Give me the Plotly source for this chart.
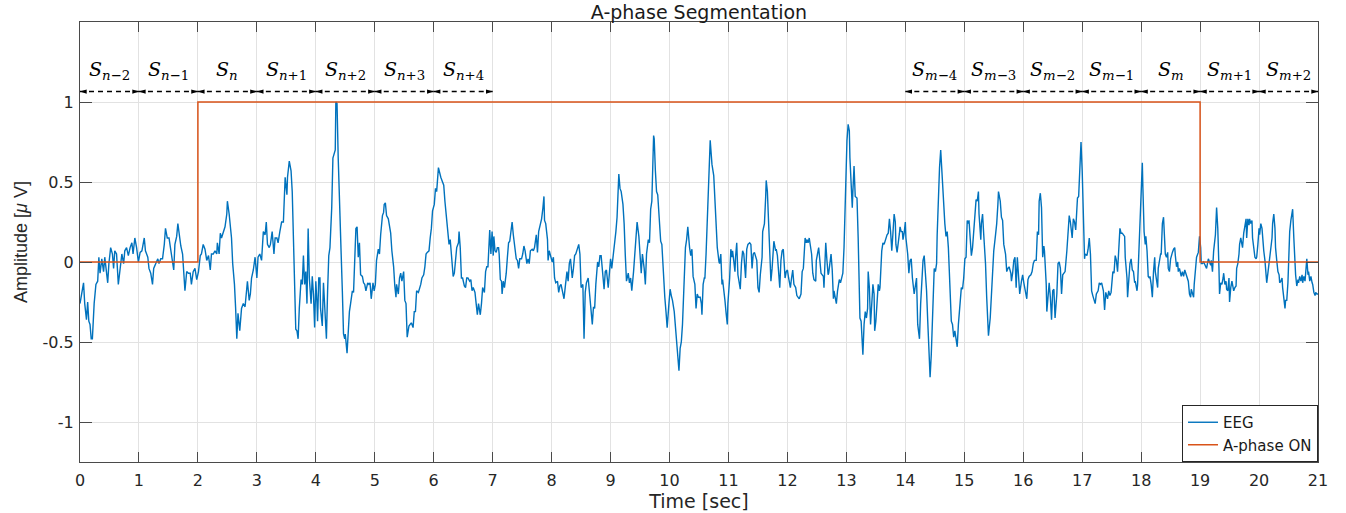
import plotly.graph_objects as go

# ---------------- data ----------------
eeg_00_03s = [(0.00,-0.26),(0.03,-0.20),(0.06,-0.13),(0.08,-0.26),(0.11,-0.36),(0.13,-0.25),(0.15,-0.37),(0.17,-0.39),(0.19,-0.48),(0.21,-0.48),(0.24,-0.26),(0.27,-0.14),(0.30,-0.12),(0.32,0.03),(0.34,-0.07),(0.37,0.02),(0.40,-0.06),(0.42,0.03),(0.45,-0.08),(0.47,-0.13),(0.49,-0.01),(0.52,0.09),(0.55,0.05),(0.57,-0.04),(0.59,0.07),(0.62,0.05),(0.65,-0.14),(0.68,-0.06),(0.71,0.05),(0.74,-0.01),(0.76,0.07),(0.79,0.09),(0.82,0.04),(0.85,0.09),(0.88,0.12),(0.90,0.05),(0.93,0.15),(0.96,0.09),(0.99,0.00),(1.02,0.06),(1.05,0.07),(1.09,0.15),(1.11,0.07),(1.15,0.03),(1.17,-0.04),(1.20,-0.07),(1.23,-0.14),(1.25,-0.04),(1.28,-0.01),(1.32,0.02),(1.34,-0.01),(1.37,0.02),(1.40,0.02),(1.43,0.11),(1.45,0.21),(1.48,0.15),(1.51,0.15),(1.54,0.07),(1.57,-0.01),(1.59,-0.05),(1.61,0.11),(1.64,0.16),(1.66,0.24),(1.68,0.18),(1.71,0.10),(1.74,0.05),(1.76,-0.10),(1.78,-0.18),(1.81,-0.06),(1.84,-0.07),(1.87,-0.07),(1.89,-0.14),(1.92,-0.06),(1.95,-0.04),(1.98,-0.11),(2.01,-0.06),(2.04,0.04),(2.06,0.05),(2.09,0.11),(2.12,0.08),(2.15,0.01),(2.18,0.04),(2.21,-0.05),(2.23,0.05),(2.26,0.05),(2.29,0.07),(2.32,0.05),(2.33,0.12),(2.36,0.05),(2.38,0.18),(2.40,0.15),(2.43,0.19),(2.46,0.22),(2.49,0.30),(2.50,0.38),(2.53,0.30),(2.55,0.24),(2.57,0.15),(2.59,-0.01),(2.62,-0.14),(2.64,-0.29),(2.66,-0.48),(2.68,-0.32),(2.71,-0.43),(2.74,-0.29),(2.77,-0.26),(2.80,-0.28),(2.83,-0.14),(2.84,-0.12),(2.87,-0.24),(2.89,-0.20),(2.91,-0.10),(2.94,-0.05),(2.97,0.03),(3.00,-0.10),(3.02,0.03),(3.05,0.05),(3.08,0.01),(3.11,0.19),(3.14,0.17),(3.16,0.25),(3.18,0.11),(3.21,0.09),(3.23,0.11),(3.26,0.19),(3.29,0.05),(3.31,0.15),(3.34,0.15),(3.36,0.12),(3.39,0.19),(3.42,0.25),(3.45,0.25)]

eeg_03_07s = [(3.48,0.53),(3.51,0.42),(3.52,0.53),(3.55,0.63),(3.58,0.57),(3.60,0.44),(3.62,0.19),(3.64,-0.12),(3.66,-0.42),(3.68,-0.43),(3.70,-0.48),(3.72,-0.29),(3.75,-0.11),(3.77,-0.14),(3.79,0.04),(3.81,-0.14),(3.83,-0.06),(3.85,-0.26),(3.87,0.21),(3.89,-0.10),(3.92,-0.26),(3.94,-0.09),(3.96,-0.20),(3.98,-0.41),(4.00,-0.12),(4.02,-0.26),(4.03,-0.37),(4.05,-0.10),(4.07,-0.10),(4.08,-0.29),(4.11,-0.40),(4.13,-0.13),(4.15,-0.31),(4.18,-0.48),(4.20,-0.18),(4.22,0.04),(4.24,0.09),(4.27,0.34),(4.29,0.65),(4.31,0.68),(4.33,0.70),(4.34,1.00),(4.36,0.99),(4.38,0.65),(4.40,0.36),(4.41,0.28),(4.43,0.05),(4.45,-0.18),(4.47,-0.45),(4.49,-0.48),(4.50,-0.45),(4.53,-0.57),(4.55,-0.39),(4.57,-0.31),(4.59,-0.26),(4.62,-0.18),(4.64,-0.19),(4.66,0.07),(4.68,0.21),(4.70,0.22),(4.72,0.03),(4.74,0.12),(4.76,-0.08),(4.79,-0.09),(4.81,-0.13),(4.83,-0.14),(4.85,-0.18),(4.88,-0.13),(4.90,-0.14),(4.92,-0.13),(4.94,-0.23),(4.97,-0.13),(4.99,-0.18),(5.01,-0.14),(5.03,0.01),(5.06,0.08),(5.08,0.05),(5.10,0.17),(5.13,0.29),(5.15,0.31),(5.16,0.36),(5.18,0.37),(5.20,0.29),(5.23,0.27),(5.25,0.21),(5.27,0.18),(5.29,0.07),(5.32,-0.03),(5.34,-0.15),(5.36,-0.22),(5.37,-0.14),(5.40,-0.20),(5.42,-0.10),(5.44,-0.07),(5.46,-0.12),(5.49,-0.06),(5.51,-0.24),(5.53,-0.26),(5.55,-0.47),(5.58,-0.40),(5.60,-0.39),(5.62,-0.38),(5.65,-0.41),(5.67,-0.31),(5.69,-0.31),(5.71,-0.18),(5.74,-0.19),(5.76,-0.17),(5.78,-0.14),(5.80,-0.10),(5.83,-0.08),(5.85,-0.03),(5.87,0.05),(5.89,0.06),(5.92,0.07),(5.94,0.15),(5.96,0.21),(5.98,0.32),(6.01,0.36),(6.03,0.46),(6.05,0.44),(6.08,0.59),(6.10,0.55),(6.12,0.53),(6.14,0.51),(6.17,0.48),(6.19,0.38),(6.21,0.30),(6.23,0.24),(6.26,0.11),(6.28,0.14),(6.30,0.03),(6.33,-0.09),(6.35,-0.07),(6.37,0.04),(6.39,0.09),(6.42,0.12),(6.43,0.19),(6.45,0.09),(6.47,-0.10),(6.49,-0.10),(6.52,-0.15),(6.54,-0.16),(6.56,-0.10),(6.58,-0.10),(6.61,-0.12),(6.63,-0.11),(6.65,-0.18),(6.67,-0.16),(6.70,-0.19),(6.72,-0.26),(6.74,-0.33),(6.76,-0.26),(6.79,-0.33),(6.81,-0.26),(6.83,-0.16),(6.86,-0.19),(6.88,-0.06),(6.90,-0.03),(6.92,-0.03)]

eeg_07_10s = [(6.95,0.20),(6.97,0.05),(6.99,0.19),(7.01,0.04),(7.02,0.16),(7.04,0.07),(7.06,0.06),(7.08,0.09),(7.10,0.09),(7.11,0.05),(7.13,-0.11),(7.15,-0.12),(7.16,-0.20),(7.18,-0.12),(7.20,-0.16),(7.23,-0.07),(7.25,0.03),(7.27,0.12),(7.29,0.13),(7.32,0.21),(7.33,0.25),(7.35,0.17),(7.37,0.09),(7.40,0.02),(7.42,0.01),(7.44,-0.04),(7.46,0.02),(7.49,0.02),(7.51,0.05),(7.53,0.10),(7.55,0.07),(7.58,-0.01),(7.60,0.02),(7.62,-0.01),(7.64,0.07),(7.67,0.08),(7.69,0.07),(7.71,0.09),(7.74,0.17),(7.76,0.06),(7.78,0.19),(7.80,0.22),(7.83,0.27),(7.85,0.33),(7.87,0.41),(7.88,0.26),(7.90,0.24),(7.93,0.14),(7.94,0.01),(7.96,0.07),(7.98,0.04),(8.01,0.00),(8.03,0.03),(8.05,-0.10),(8.07,-0.13),(8.10,-0.12),(8.12,-0.19),(8.14,-0.15),(8.16,-0.14),(8.19,-0.20),(8.21,-0.23),(8.23,-0.16),(8.26,-0.06),(8.28,-0.12),(8.30,-0.01),(8.32,0.02),(8.35,-0.10),(8.37,-0.04),(8.39,0.04),(8.41,0.05),(8.44,0.08),(8.46,0.11),(8.48,0.05),(8.50,-0.16),(8.53,-0.14),(8.55,-0.48),(8.57,-0.19),(8.59,-0.13),(8.62,-0.10),(8.64,-0.18),(8.66,-0.22),(8.69,-0.39),(8.71,-0.28),(8.73,-0.29),(8.75,-0.14),(8.78,0.00),(8.80,-0.03),(8.82,0.04),(8.84,0.04),(8.87,-0.07),(8.89,-0.17),(8.91,-0.06),(8.93,-0.05),(8.96,-0.16),(8.98,-0.08),(9.00,0.02),(9.02,-0.04),(9.05,0.05),(9.07,0.10),(9.09,0.19),(9.11,0.28),(9.14,0.55),(9.16,0.46),(9.18,0.44),(9.21,0.36),(9.23,0.24),(9.25,0.04),(9.27,-0.12),(9.30,-0.07),(9.32,-0.13),(9.34,-0.10),(9.36,-0.18),(9.39,-0.06),(9.41,0.05),(9.43,0.15),(9.45,0.25),(9.48,0.16),(9.50,0.05),(9.52,-0.07),(9.54,0.05),(9.57,-0.04),(9.59,-0.14),(9.61,0.05),(9.64,0.14),(9.66,0.12),(9.68,0.33),(9.70,0.38),(9.73,0.79),(9.74,0.77),(9.76,0.57),(9.78,0.44),(9.80,0.42),(9.83,0.28),(9.85,0.13),(9.87,0.11),(9.90,-0.12),(9.92,-0.22),(9.94,-0.31),(9.96,-0.41),(9.99,-0.26),(10.01,-0.17),(10.03,-0.21),(10.05,-0.24),(10.08,-0.31),(10.10,-0.39),(10.12,-0.47),(10.14,-0.58),(10.16,-0.68),(10.18,-0.54),(10.20,-0.50),(10.22,-0.39),(10.25,-0.10),(10.27,0.09),(10.29,0.14),(10.31,0.22),(10.34,0.09),(10.36,0.04),(10.38,0.08),(10.40,-0.09),(10.43,-0.14),(10.45,-0.29),(10.47,-0.20),(10.49,-0.22)]

eeg_10_14s = [(10.52,-0.22),(10.54,-0.26),(10.55,-0.33),(10.57,-0.14),(10.59,-0.10),(10.60,-0.10),(10.62,0.05),(10.64,0.28),(10.66,0.49),(10.67,0.59),(10.69,0.76),(10.71,0.66),(10.72,0.61),(10.75,0.54),(10.77,0.38),(10.79,0.19),(10.81,0.09),(10.84,0.00),(10.85,-0.01),(10.87,0.05),(10.89,-0.14),(10.90,-0.11),(10.92,-0.20),(10.94,-0.24),(10.96,-0.32),(10.98,-0.39),(10.99,-0.26),(11.02,-0.10),(11.04,0.08),(11.06,0.03),(11.07,0.07),(11.09,0.00),(11.11,-0.06),(11.12,0.03),(11.14,0.12),(11.16,-0.08),(11.18,-0.14),(11.20,-0.17),(11.22,-0.01),(11.24,0.07),(11.26,0.05),(11.28,-0.04),(11.29,-0.10),(11.31,0.08),(11.33,0.11),(11.36,0.12),(11.38,0.11),(11.40,-0.04),(11.42,0.05),(11.44,0.06),(11.46,0.03),(11.48,0.01),(11.50,-0.16),(11.52,-0.19),(11.54,-0.08),(11.57,0.03),(11.58,0.19),(11.61,0.24),(11.63,0.40),(11.64,0.51),(11.66,0.44),(11.68,0.24),(11.70,0.07),(11.72,-0.12),(11.74,-0.04),(11.75,0.05),(11.77,0.13),(11.80,0.07),(11.81,0.08),(11.83,0.04),(11.85,-0.06),(11.87,-0.16),(11.89,0.01),(11.91,0.07),(11.93,0.08),(11.94,0.01),(11.96,-0.10),(11.98,-0.06),(12.00,-0.05),(12.02,-0.10),(12.05,-0.16),(12.07,-0.10),(12.09,-0.05),(12.11,-0.14),(12.14,-0.16),(12.16,-0.21),(12.18,-0.22),(12.20,-0.23),(12.23,-0.20),(12.25,-0.06),(12.27,-0.04),(12.28,0.07),(12.30,0.15),(12.32,0.12),(12.33,0.14),(12.35,0.12),(12.37,0.15),(12.39,0.10),(12.41,0.05),(12.43,-0.07),(12.45,-0.11),(12.48,-0.12),(12.49,0.01),(12.51,0.05),(12.53,0.09),(12.55,0.01),(12.57,-0.07),(12.59,-0.08),(12.61,-0.09),(12.62,-0.16),(12.65,0.12),(12.67,0.01),(12.69,-0.08),(12.70,-0.07),(12.72,-0.01),(12.74,0.05),(12.76,-0.05),(12.78,-0.23),(12.79,-0.18),(12.82,-0.24),(12.83,-0.26),(12.85,-0.18),(12.87,-0.14),(12.88,-0.11),(12.90,-0.13),(12.92,-0.09),(12.94,-0.07),(12.96,0.09),(12.98,0.42),(13.01,0.76),(13.03,0.86),(13.05,0.82),(13.06,0.65),(13.08,0.53),(13.10,0.34),(13.11,0.44),(13.13,0.60),(13.15,0.41),(13.18,0.40),(13.20,0.15),(13.22,-0.10),(13.23,-0.35),(13.25,-0.37),(13.27,-0.51),(13.28,-0.58),(13.30,-0.39),(13.32,-0.31),(13.34,-0.35),(13.36,-0.29),(13.37,-0.06),(13.39,-0.16),(13.41,-0.39),(13.43,-0.29),(13.45,-0.14),(13.47,-0.20),(13.48,-0.43),(13.50,-0.37),(13.52,-0.26),(13.54,-0.14),(13.56,-0.18),(13.57,-0.16),(13.60,0.07),(13.62,0.12),(13.64,0.11),(13.66,0.14),(13.69,0.17),(13.71,0.18),(13.73,0.27),(13.75,0.19),(13.77,0.07),(13.79,0.18),(13.81,0.30),(13.83,0.25),(13.84,0.11),(13.86,0.06),(13.88,0.11),(13.90,0.18),(13.91,0.22),(13.93,0.19),(13.95,0.19),(13.96,0.14),(13.98,0.18),(14.00,0.25),(14.01,0.15),(14.04,0.05),(14.06,-0.07)]

eeg_14_17s = [(14.08,0.01),(14.10,0.02),(14.12,-0.10),(14.15,-0.20),(14.17,-0.14),(14.19,-0.10),(14.21,-0.39),(14.24,-0.48),(14.26,-0.26),(14.28,-0.07),(14.30,0.01),(14.32,0.04),(14.34,-0.06),(14.36,-0.18),(14.38,-0.37),(14.41,-0.58),(14.42,-0.72),(14.44,-0.58),(14.46,-0.39),(14.47,-0.18),(14.49,-0.04),(14.51,-0.06),(14.53,-0.01),(14.54,0.17),(14.56,0.42),(14.58,0.59),(14.60,0.70),(14.62,0.57),(14.64,0.40),(14.67,0.24),(14.69,0.16),(14.71,0.19),(14.73,0.09),(14.76,-0.16),(14.78,-0.37),(14.80,-0.39),(14.82,-0.47),(14.84,-0.43),(14.86,-0.47),(14.88,-0.53),(14.90,-0.39),(14.93,-0.26),(14.95,-0.16),(14.97,-0.17),(14.99,-0.10),(15.01,0.02),(15.03,0.03),(15.05,0.26),(15.06,0.24),(15.08,0.26),(15.10,0.15),(15.12,0.04),(15.14,0.09),(15.16,0.19),(15.19,0.34),(15.20,0.39),(15.22,0.38),(15.24,0.44),(15.25,0.30),(15.28,0.14),(15.29,0.24),(15.31,0.30),(15.33,0.17),(15.36,-0.01),(15.38,-0.22),(15.40,-0.39),(15.41,-0.46),(15.44,-0.35),(15.46,-0.20),(15.48,-0.06),(15.50,0.07),(15.53,0.17),(15.55,0.24),(15.57,0.36),(15.58,0.44),(15.61,0.38),(15.63,0.28),(15.65,0.26),(15.67,0.11),(15.70,0.05),(15.72,-0.06),(15.74,-0.04),(15.76,-0.03),(15.79,-0.07),(15.80,-0.12),(15.82,-0.07),(15.84,0.01),(15.86,0.03),(15.88,-0.16),(15.90,0.03),(15.92,-0.07),(15.94,-0.20),(15.97,-0.12),(15.99,-0.08),(16.01,-0.13),(16.03,-0.18),(16.06,-0.23),(16.08,-0.11),(16.10,-0.09),(16.13,-0.08),(16.15,-0.06),(16.17,-0.01),(16.19,0.01),(16.22,0.01),(16.24,0.19),(16.26,0.17),(16.27,0.38),(16.29,0.43),(16.31,0.34),(16.33,0.03),(16.35,0.10),(16.36,0.07),(16.39,-0.14),(16.40,-0.31),(16.42,-0.22),(16.44,-0.13),(16.46,-0.22),(16.48,-0.36),(16.50,-0.18),(16.52,-0.17),(16.54,-0.35),(16.57,-0.20),(16.59,-0.01),(16.61,0.00),(16.63,-0.04),(16.65,-0.20),(16.67,-0.08),(16.69,-0.07),(16.71,-0.06),(16.74,0.07),(16.76,0.19),(16.78,0.29),(16.80,0.25),(16.83,0.15),(16.85,0.27),(16.87,0.25),(16.89,0.20),(16.92,0.40),(16.94,0.41),(16.96,0.63),(16.98,0.75),(17.00,0.57),(17.02,0.24),(17.04,0.02),(17.05,0.05),(17.08,0.04),(17.10,0.08),(17.12,0.15),(17.14,0.05),(17.16,-0.18),(17.18,-0.21),(17.20,-0.24),(17.22,-0.26),(17.24,-0.20),(17.27,-0.18),(17.29,-0.13),(17.31,-0.14),(17.33,-0.13),(17.36,-0.18),(17.38,-0.30),(17.40,-0.19),(17.43,-0.23),(17.45,-0.18),(17.47,-0.21),(17.49,-0.19),(17.52,-0.06),(17.54,-0.07),(17.56,0.04),(17.58,0.01),(17.60,-0.06)]

eeg_17_21s = [(17.64,0.21),(17.66,0.18),(17.68,0.18),(17.70,0.17),(17.72,0.16),(17.73,0.03),(17.76,-0.10),(17.77,-0.22),(17.79,-0.10),(17.81,-0.01),(17.83,0.02),(17.85,-0.05),(17.87,-0.06),(17.89,-0.13),(17.90,-0.12),(17.93,-0.18),(17.94,-0.14),(17.96,0.03),(17.98,0.24),(18.00,0.44),(18.02,0.62),(18.03,0.46),(18.05,0.19),(18.07,0.11),(18.08,0.16),(18.10,0.07),(18.12,-0.09),(18.14,-0.10),(18.15,-0.09),(18.17,-0.14),(18.19,-0.22),(18.21,-0.06),(18.23,0.03),(18.24,-0.06),(18.26,-0.12),(18.28,-0.16),(18.29,-0.04),(18.31,0.02),(18.33,0.05),(18.34,0.05),(18.36,0.24),(18.38,0.28),(18.40,0.15),(18.41,0.05),(18.43,0.03),(18.45,0.06),(18.46,-0.04),(18.48,-0.06),(18.50,0.02),(18.51,0.04),(18.53,0.06),(18.55,0.08),(18.57,0.09),(18.58,0.04),(18.60,-0.03),(18.62,0.00),(18.63,-0.06),(18.65,-0.04),(18.67,-0.07),(18.68,-0.09),(18.70,-0.06),(18.72,-0.09),(18.74,-0.05),(18.75,-0.06),(18.77,-0.09),(18.79,-0.11),(18.80,-0.12),(18.82,-0.20),(18.84,-0.22),(18.85,-0.17),(18.87,-0.20),(18.89,-0.22),(18.90,-0.14),(18.92,-0.06),(18.94,0.03),(18.96,0.05),(18.97,0.06),(18.99,0.16),(19.01,0.09),(19.02,-0.01),(19.04,-0.01),(19.06,0.00),(19.07,-0.01),(19.09,-0.02),(19.11,-0.04),(19.13,0.00),(19.14,0.02),(19.16,0.00),(19.18,-0.02),(19.19,0.01),(19.21,-0.06),(19.23,0.07),(19.24,0.12),(19.26,0.17),(19.28,0.34),(19.30,0.21),(19.32,-0.04),(19.33,-0.20),(19.35,-0.13),(19.37,-0.14),(19.39,-0.10),(19.40,-0.07),(19.42,-0.14),(19.44,-0.12),(19.45,-0.17),(19.47,-0.18),(19.49,-0.10),(19.50,-0.25),(19.52,-0.16),(19.54,-0.12),(19.55,-0.14),(19.57,-0.18),(19.59,-0.16),(19.61,-0.15),(19.62,-0.04),(19.64,-0.01),(19.66,0.05),(19.67,0.11),(19.69,0.15),(19.71,0.09),(19.72,0.09),(19.74,0.18),(19.76,0.24),(19.78,0.27),(19.79,0.15),(19.81,0.27),(19.83,0.23),(19.84,0.27),(19.86,0.24),(19.88,0.26),(19.89,0.15),(19.91,0.09),(19.93,0.03),(19.95,0.02),(19.96,0.03),(19.98,0.11),(20.00,0.21),(20.01,0.17),(20.03,0.24),(20.05,0.21),(20.06,0.15),(20.08,0.07),(20.10,0.01),(20.11,-0.06),(20.13,-0.13),(20.15,-0.07),(20.17,0.00),(20.18,0.03),(20.20,0.09),(20.22,0.15),(20.23,0.24),(20.25,0.30),(20.27,0.21),(20.28,0.09),(20.30,0.01),(20.32,-0.06),(20.34,-0.08),(20.35,-0.13),(20.37,-0.12),(20.39,-0.10),(20.40,-0.16),(20.42,-0.23),(20.44,-0.29),(20.45,-0.24),(20.47,-0.24),(20.49,-0.13),(20.50,-0.01),(20.52,0.19),(20.54,0.26),(20.56,0.30),(20.57,0.33),(20.59,0.15),(20.61,-0.03),(20.62,-0.08),(20.64,-0.15),(20.66,-0.11),(20.67,-0.13),(20.69,-0.09),(20.71,-0.12),(20.73,-0.08),(20.74,-0.13),(20.76,-0.09),(20.78,-0.12),(20.79,-0.06),(20.81,0.02),(20.83,-0.08),(20.84,-0.06),(20.86,-0.12),(20.88,-0.09),(20.90,-0.13),(20.91,-0.14),(20.93,-0.19),(20.95,-0.21),(20.96,-0.19),(20.98,-0.20),(21.00,-0.20)]

aphase_time = [0, 2, 19, 21]
aphase_on = [0, 1, 0, 0]

seg_left_starts = [0, 1, 2, 3, 4, 5, 6]
seg_left_labels = ["n−2", "n−1", "n", "n+1", "n+2", "n+3", "n+4"]
seg_right_starts = [14, 15, 16, 17, 18, 19, 20]
seg_right_labels = ["m−4", "m−3", "m−2", "m−1", "m", "m+1", "m+2"]
seg_width = 1
arrow_level = 1.065
label_level = 1.195

y_tick_vals = [-1, -0.5, 0, 0.5, 1]
y_tick_text = ["-1", "-0.5", "0", "0.5", "1"]
x_tick_vals = list(range(0, 22))

# ---------------- build ----------------
pairs = eeg_00_03s + eeg_03_07s + eeg_07_10s + eeg_10_14s + eeg_14_17s + eeg_17_21s
eeg_t = [p[0] for p in pairs]
eeg_v = [p[1] for p in pairs]

BLUE = "#0072BD"
ORANGE = "#D95319"
AX = "#4a4a4a"
TXT = "#262626"
WIDE = "DejaVu Sans, Verdana, sans-serif"
SANS = "Liberation Sans, Arial, sans-serif"
SERIF = "DejaVu Serif, serif"

fig = go.Figure()
fig.add_trace(go.Scatter(x=eeg_t, y=eeg_v, mode="lines", name="EEG",
                         line=dict(color=BLUE, width=1.4)))
fig.add_trace(go.Scatter(x=aphase_time, y=aphase_on, mode="lines", name="A-phase ON",
                         line=dict(color=ORANGE, width=1.5, shape="hv")))

starts = seg_left_starts + seg_right_starts
labels = seg_left_labels + seg_right_labels
lx, ly, hx, hy, hang = [], [], [], [], []
for s in starts:
    lx += [s, s + seg_width, None]
    ly += [arrow_level, arrow_level, None]
    hx += [s, s + seg_width]
    hy += [arrow_level, arrow_level]
    hang += [-90, 90]
fig.add_trace(go.Scatter(x=lx, y=ly, mode="lines", showlegend=False, hoverinfo="skip",
                         line=dict(color="black", width=1.5, dash="5px,4px")))
fig.add_trace(go.Scatter(x=hx, y=hy, mode="markers", showlegend=False, hoverinfo="skip",
                         marker=dict(symbol="arrow", angle=hang, size=7, color="black",
                                     line=dict(width=0))))

for s, lab in zip(starts, labels):
    if any(ch in lab for ch in "+−"):
        sub = "<i>" + lab[0] + "</i>" + lab[1:]
    else:
        sub = "<i>" + lab + "</i>"
    fig.add_annotation(x=s + seg_width / 2, y=label_level, xref="x", yref="y",
                       text="<i>S</i><sub>" + sub + "</sub>", showarrow=False,
                       font=dict(family=SERIF, size=19, color="black"))

fig.update_layout(
    width=1346, height=513,
    margin=dict(l=80, r=28, t=22, b=51, autoexpand=False),
    paper_bgcolor="white", plot_bgcolor="white",
    title=dict(text="A-phase Segmentation", x=0.5, xref="paper", xanchor="center",
               y=1 - 12 / 513, yanchor="middle", yref="container",
               font=dict(family=WIDE, size=19, color="#1a1a1a")),
    font=dict(family=WIDE, size=15, color=TXT),
    legend=dict(x=1, y=0, xanchor="right", yanchor="bottom",
                bordercolor="#262626", borderwidth=1, bgcolor="white",
                font=dict(family=WIDE, size=15, color="#1a1a1a"),
                itemwidth=30, tracegroupgap=0),
    showlegend=True,
)
fig.update_xaxes(range=[0, 21], tickvals=x_tick_vals, ticks="inside", ticklen=10,
                 tickcolor=AX, showline=True, linecolor=AX, linewidth=1, mirror="ticks",
                 showgrid=True, gridcolor="#e2e2e2", gridwidth=1, zeroline=False,
                 ticklabelstandoff=4,
                 tickfont=dict(family=WIDE, size=16, color=TXT),
                 title=dict(text="Time [sec]", standoff=4,
                            font=dict(family=WIDE, size=19, color=TXT)))
fig.update_yaxes(range=[-1.25, 1.5], tickvals=y_tick_vals, ticktext=y_tick_text,
                 ticks="inside", ticklen=12, tickcolor=AX, showline=True, linecolor=AX,
                 linewidth=1, mirror="ticks", showgrid=True, gridcolor="#e2e2e2",
                 gridwidth=1, zeroline=False, ticklabelstandoff=2,
                 tickfont=dict(family=WIDE, size=16, color=TXT),
                 title=dict(text="Amplitude [<i>μ</i> V]", standoff=10,
                            font=dict(family=SANS, size=18, color=TXT)))

fig.write_html("out.html", config={"displayModeBar": False},
               post_script="document.body.style.margin='0px';")
